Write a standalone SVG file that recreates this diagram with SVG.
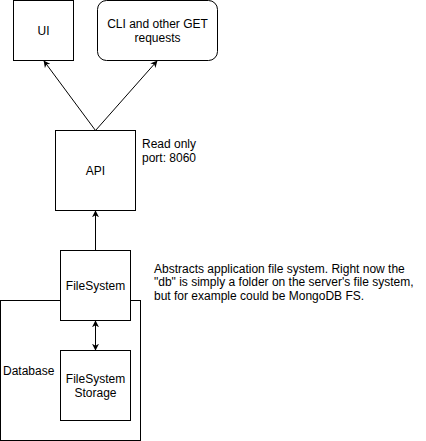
<svg xmlns="http://www.w3.org/2000/svg" width="426" height="441" viewBox="0 0 426 441">
<style>
.box{fill:#ffffff;stroke:#000000;stroke-width:1}
.t{font-family:"Liberation Sans",Arial,Helvetica,sans-serif;font-size:12px;fill:#000000}
.c{text-anchor:middle}
.edge{stroke:#000000;stroke-width:1;fill:none}
</style>
<defs>
<marker id="arr" viewBox="0 0 10 10" refX="9" refY="5" markerWidth="7" markerHeight="7" markerUnits="userSpaceOnUse" orient="auto-start-reverse">
<path d="M0,0 L10,5 L0,10 L3,5 Z" fill="#000000"/>
</marker>
</defs>
<rect width="426" height="441" fill="#ffffff"/>
<g id="database">
<rect class="box" x="0.5" y="300.5" width="140" height="140"/>
<text class="t" x="3" y="375">Database</text>
</g>
<g id="ui">
<rect class="box" x="13.5" y="0.5" width="60" height="60"/>
<text class="t c" x="43.5" y="35">UI</text>
</g>
<g id="cli">
<rect class="box" x="97.5" y="0.5" width="120" height="60" rx="9" ry="9"/>
<text class="t c" x="157.5" y="27.5">CLI and other GET</text>
<text class="t c" x="157.5" y="42">requests</text>
</g>
<g id="api">
<rect class="box" x="55.5" y="130.5" width="80" height="80"/>
<text class="t c" x="95.5" y="174.5">API</text>
</g>
<g id="api-note">
<text class="t" x="142" y="147.5">Read only</text>
<text class="t" x="142" y="162">port: 8060</text>
</g>
<g id="filesystem">
<rect class="box" x="60.5" y="250.5" width="70" height="70"/>
<text class="t c" x="95.5" y="289.5">FileSystem</text>
</g>
<g id="filesystem-note">
<text class="t" x="154" y="272.5">Abstracts application file system. Right now the</text>
<text class="t" x="154" y="286">"db" is simply a folder on the server's file system,</text>
<text class="t" x="154" y="299.5">but for example could be MongoDB FS.</text>
</g>
<g id="storage">
<rect class="box" x="60.5" y="350.5" width="70" height="70"/>
<text class="t c" x="95.5" y="382.5">FileSystem</text>
<text class="t c" x="95.5" y="397">Storage</text>
</g>
<g id="connectors">
<line class="edge" x1="95.5" y1="130.5" x2="44" y2="61" marker-end="url(#arr)"/>
<line class="edge" x1="95.5" y1="130.5" x2="157" y2="61" marker-end="url(#arr)"/>
<line class="edge" x1="95.5" y1="250.5" x2="95.5" y2="211" marker-end="url(#arr)"/>
<line class="edge" x1="95.5" y1="321" x2="95.5" y2="350" marker-start="url(#arr)" marker-end="url(#arr)"/>
</g>
</svg>
